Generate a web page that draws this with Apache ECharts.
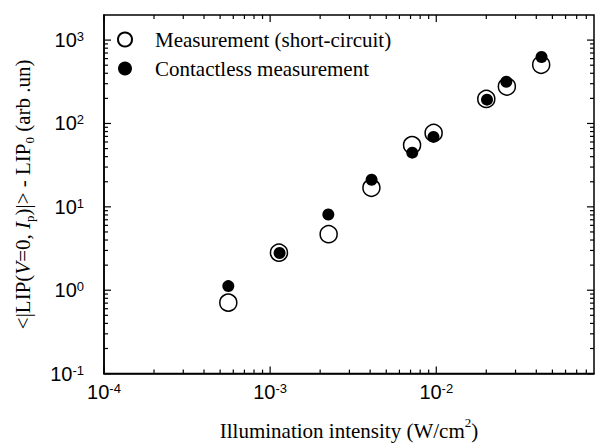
<!DOCTYPE html>
<html>
<head>
<meta charset="utf-8">
<script src="https://cdn.jsdelivr.net/npm/echarts@6/dist/echarts.min.js"></script>
<style>
html,body{margin:0;padding:0;background:#fff;}
#c{width:598px;height:446px;}
</style>
</head>
<body>
<div id="c"></div>
<script>
// ---- data ----
const seriesNames = ['Measurement (short-circuit)', 'Contactless measurement'];
const measX = [5.6e-4, 1.13e-3, 2.25e-3, 4.07e-3, 7.15e-3, 9.64e-3, 0.0200, 0.0266, 0.0428];
const measY = [0.71, 2.82, 4.7, 16.9, 55, 77, 197, 277, 505];
const contX = [5.6e-4, 1.14e-3, 2.24e-3, 4.08e-3, 7.17e-3, 9.62e-3, 0.0202, 0.0264, 0.0430];
const contY = [1.12, 2.8, 8.1, 21.1, 44.7, 69, 193, 317, 628];
const X_MIN = 1e-4, X_MAX = 0.089;
const Y_MIN = 0.1, Y_MAX = 2000;

// tick positions for the frame (axis decoration: 1..9 x 10^k)
function tickVals(lo, hi) {
  const out = [];
  for (let k = Math.floor(Math.log10(lo)); k <= Math.ceil(Math.log10(hi)); k++) {
    for (let m = 1; m <= 9; m++) {
      const v = m * Math.pow(10, k);
      if (v >= lo * 0.999999 && v < hi) out.push(v);
    }
  }
  return out;
}
const xTicks = tickVals(X_MIN, X_MAX);
const yTicks = tickVals(Y_MIN, Y_MAX);

const serif = 'Liberation Serif';
const sans = 'Liberation Sans';

function isPow10(v) {
  const l = Math.log10(v);
  return Math.abs(l - Math.round(l)) < 1e-6;
}
function powLabel(v) {
  if (!isPow10(v)) return '';
  return '{b|10}{s|' + Math.round(Math.log10(v)) + '}';
}
const tickRich = {
  b: {fontFamily: sans, fontSize: 20, lineHeight: 20, padding: [9, 0, 9, 0], color: '#000'},
  s: {fontFamily: sans, fontSize: 13, lineHeight: 13, verticalAlign: 'top', color: '#000'}
};
const MAJOR = 7, MINOR = 4;
const tickLineStyle = {stroke: '#000', lineWidth: 1.2};

function xTickRender(params, api) {
  const v = api.value(0);
  const len = isPow10(v) ? MAJOR : MINOR;
  const b = api.coord([v, Y_MIN]);
  const t = api.coord([v, Y_MAX]);
  return {type: 'group', children: [
    {type: 'line', shape: {x1: b[0], y1: b[1], x2: b[0], y2: b[1] - len}, style: tickLineStyle},
    {type: 'line', shape: {x1: t[0], y1: t[1], x2: t[0], y2: t[1] + len}, style: tickLineStyle}
  ]};
}
function yTickRender(params, api) {
  const v = api.value(1);
  const len = isPow10(v) ? MAJOR : MINOR;
  const l = api.coord([X_MIN, v]);
  const r = api.coord([X_MAX, v]);
  return {type: 'group', children: [
    {type: 'line', shape: {x1: l[0], y1: l[1], x2: l[0] + len, y2: l[1]}, style: tickLineStyle},
    {type: 'line', shape: {x1: r[0], y1: r[1], x2: r[0] - len, y2: r[1]}, style: tickLineStyle}
  ]};
}

const chart = echarts.init(document.getElementById('c'), null, {renderer: 'svg'});
const option = {
  backgroundColor: '#fff',
  animation: false,
  grid: {left: 104, right: 4, top: 15, bottom: 70, show: true, borderColor: '#000', borderWidth: 1.5, backgroundColor: 'transparent'},
  legend: {
    orient: 'vertical', left: 112, top: 24, itemWidth: 50, itemHeight: 14, itemGap: 8,
    data: seriesNames,
    textStyle: {fontFamily: serif, fontSize: 21, lineHeight: 21, color: '#000'}
  },
  xAxis: {
    type: 'log', logBase: 10, min: X_MIN, max: X_MAX,
    axisLine: {show: true, lineStyle: {color: '#000', width: 1.5}},
    axisTick: {show: false},
    splitLine: {show: false},
    axisLabel: {margin: 8, formatter: powLabel, rich: tickRich},
    name: '{t|Illumination intensity (W/cm}{s|2}{t|)}',
    nameLocation: 'middle', nameGap: 40,
    nameTextStyle: {rich: {
      t: {fontFamily: serif, fontSize: 21, lineHeight: 30, color: '#000'},
      s: {fontFamily: serif, fontSize: 13, lineHeight: 13, verticalAlign: 'top', color: '#000'}
    }}
  },
  yAxis: {
    type: 'log', logBase: 10, min: Y_MIN, max: Y_MAX,
    axisLine: {show: true, lineStyle: {color: '#000', width: 1.5}},
    axisTick: {show: false},
    splitLine: {show: false},
    axisLabel: {margin: 20, formatter: powLabel, rich: tickRich},
    name: '{t|<|LIP(}{i|V}{t|=0, }{i|I}{u|p}{t|)|> - LIP}{u|0}{t| (arb .un)}',
    nameLocation: 'middle', nameGap: 60, nameRotate: 90,
    nameTextStyle: {rich: {
      t: {fontFamily: serif, fontSize: 21, lineHeight: 21, padding: [0, 0, 6, 0], color: '#000'},
      i: {fontFamily: serif, fontSize: 21, lineHeight: 21, padding: [0, 0, 6, 0], fontStyle: 'italic', color: '#000'},
      u: {fontFamily: serif, fontSize: 13, lineHeight: 13, verticalAlign: 'bottom', color: '#000'}
    }}
  },
  series: [{
    name: seriesNames[0], type: 'scatter', symbol: 'circle', symbolSize: 17,
    itemStyle: {color: '#fff', borderColor: '#000', borderWidth: 1.5, opacity: 1},
    data: measX.map((x, i) => [x, measY[i]]), z: 3
  }, {
    name: seriesNames[1], type: 'scatter', symbol: 'circle', symbolSize: 12,
    itemStyle: {color: '#000', opacity: 1},
    data: contX.map((x, i) => [x, contY[i]]), z: 4
  }, {
    type: 'custom', silent: true, clip: false, renderItem: xTickRender,
    data: xTicks.map(v => [v, Y_MIN]), z: 5
  }, {
    type: 'custom', silent: true, clip: false, renderItem: yTickRender,
    data: yTicks.map(v => [X_MIN, v]), z: 5
  }]
};
chart.setOption(option);
</script>
</body>
</html>
